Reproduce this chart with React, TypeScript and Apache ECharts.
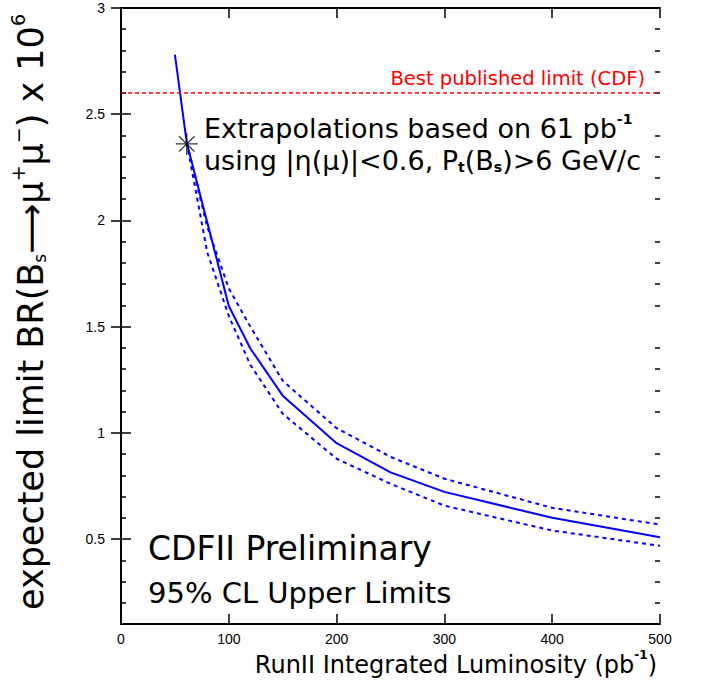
import React, { useEffect, useRef } from "react";
import * as echarts from "echarts";

// Expected limit (solid line)
const lumi = [50, 61, 100, 120, 150, 200, 250, 300, 400, 500];
const expected = [2.78, 2.366, 1.597, 1.397, 1.175, 0.951, 0.814, 0.722, 0.6, 0.508];
// +/- band (dashed lines)
const bandLumi = [61, 80, 100, 120, 150, 200, 250, 300, 400, 500];
const upper = [2.366, 1.97, 1.68, 1.5, 1.245, 1.022, 0.887, 0.784, 0.647, 0.568];
const lower = [2.366, 1.85, 1.55, 1.32, 1.09, 0.878, 0.76, 0.657, 0.54, 0.468];
// measured point
const measuredLumi = [61];
const measuredLimit = [2.36];
// best published limit
const bestLimit = 2.6;
// axis ticks
const yMajor = [0.5, 1, 1.5, 2, 2.5, 3];
const yMinor = [0.2, 0.3, 0.4, 0.6, 0.7, 0.8, 0.9, 1.1, 1.2, 1.3, 1.4, 1.6, 1.7, 1.8, 1.9, 2.1, 2.2, 2.3, 2.4, 2.6, 2.7, 2.8, 2.9];
const xTicks = { min: 0, max: 500, interval: 100 };

const FONT = "DejaVu Sans";
const LBL = "Liberation Sans";

export default function App() {
  const ref = useRef<HTMLDivElement>(null);
  useEffect(() => {
    if (!ref.current) return;
    const chart = echarts.init(ref.current, null, { renderer: "svg" });
    const axisLine = { show: true, lineStyle: { color: "#000", width: 2 } };
    const yBase = (pos: string, ticks: number[], len: number, labels: boolean, line: boolean) => ({
      type: "value",
      min: 0.1,
      max: 3,
      position: pos,
      axisLine: line ? axisLine : { show: false },
      axisTick: { show: true, inside: true, length: len, customValues: ticks, lineStyle: { color: "#000", width: 1.5 } },
      axisLabel: labels
        ? { show: true, customValues: yMajor, color: "#000", fontSize: 14, fontFamily: LBL, margin: 16, formatter: (v: number) => String(v) }
        : { show: false },
      splitLine: { show: false },
    });
    const xBase = (pos: string, labels: boolean) => ({
      type: "value",
      min: xTicks.min,
      max: xTicks.max,
      interval: xTicks.interval,
      position: pos,
      axisLine,
      axisTick: { show: true, inside: true, length: 10, lineStyle: { color: "#000", width: 1.5 } },
      axisLabel: labels ? { show: true, color: "#000", fontSize: 14, fontFamily: LBL, margin: 8 } : { show: false },
      splitLine: { show: false },
    });
    chart.setOption({
      animation: false,
      backgroundColor: "#fff",
      grid: { left: 121, top: 8, right: 41, bottom: 70, containLabel: false },
      xAxis: [xBase("bottom", true), xBase("top", false)],
      yAxis: [
        yBase("left", yMajor, 10, true, true),
        yBase("right", yMajor, 10, false, true),
        yBase("left", yMinor, 5, false, false),
        yBase("right", yMinor, 5, false, false),
      ],
      series: [
        {
          type: "line",
          data: bandLumi.map((x, i) => [x, upper[i]]),
          symbol: "none",
          lineStyle: { color: "#0000ff", width: 2, type: [4, 4] },
        },
        {
          type: "line",
          data: bandLumi.map((x, i) => [x, lower[i]]),
          symbol: "none",
          lineStyle: { color: "#0000ff", width: 2, type: [4, 4] },
        },
        {
          type: "line",
          data: lumi.map((x, i) => [x, expected[i]]),
          symbol: "none",
          lineStyle: { color: "#0000ff", width: 2 },
          markLine: {
            silent: true,
            symbol: "none",
            label: { show: false },
            lineStyle: { color: "#ff0000", width: 1.5, type: [4, 3] },
            data: [{ yAxis: bestLimit }],
          },
        },
        {
          type: "scatter",
          data: measuredLumi.map((x, i) => [x, measuredLimit[i]]),
          symbol: "path://M10,0L10,20M0,10L20,10M3,3L17,17M3,17L17,3",
          symbolSize: 22,
          itemStyle: { color: "none", borderColor: "#000", borderWidth: 1.3 },
          z: 5,
        },
      ],
      graphic: [
        {
          type: "text",
          x: 645,
          y: 78,
          style: { text: "Best published limit (CDF)", fill: "#ff0000", font: `19.5px "${FONT}"`, align: "right", verticalAlign: "middle" },
        },
        {
          type: "text",
          x: 204,
          y: 127,
          style: {
            text: "{a|Extrapolations based on 61 pb}{p|-1}",
            align: "left",
            verticalAlign: "middle",
            rich: {
              a: { fontSize: 27, fontFamily: FONT, fill: "#000", lineHeight: 30, verticalAlign: "bottom" },
              p: { fontSize: 14, fontFamily: FONT, fill: "#000", lineHeight: 30, verticalAlign: "top", fontWeight: "bold" },
            },
          },
        },
        {
          type: "text",
          x: 204,
          y: 159,
          style: {
            text: "{a|using |η(μ)|<0.6, P}{s|t}{a|(B}{s|s}{a|)>6 GeV/c}",
            align: "left",
            verticalAlign: "middle",
            rich: {
              a: { fontSize: 27, fontFamily: FONT, fill: "#000", lineHeight: 30, verticalAlign: "bottom" },
              s: { fontSize: 14, fontFamily: FONT, fill: "#000", lineHeight: 16, verticalAlign: "bottom", fontWeight: "bold" },
            },
          },
        },
        {
          type: "text",
          x: 148,
          y: 548,
          style: { text: "CDFII Preliminary", fill: "#000", font: `33px "${FONT}"`, align: "left", verticalAlign: "middle" },
        },
        {
          type: "text",
          x: 148,
          y: 593,
          style: { text: "95% CL Upper Limits", fill: "#000", font: `29px "${FONT}"`, align: "left", verticalAlign: "middle" },
        },
        {
          type: "text",
          x: 657,
          y: 663,
          style: {
            text: "{a|RunII Integrated Luminosity (pb}{p|-1}{a|)}",
            align: "right",
            verticalAlign: "middle",
            rich: {
              a: { fontSize: 24, fontFamily: FONT, fill: "#000", lineHeight: 28, verticalAlign: "bottom" },
              p: { fontSize: 12, fontFamily: FONT, fill: "#000", lineHeight: 28, verticalAlign: "top", fontWeight: "bold" },
            },
          },
        },
        {
          type: "text",
          x: 28,
          y: 312,
          rotation: Math.PI / 2,
          style: {
            text: "{a|expected limit BR(B}{s|s}{a|⟶μ}{p|+}{a|μ}{p|−}{a|) x 10}{p|6}",
            align: "center",
            verticalAlign: "middle",
            rich: {
              a: { fontSize: 35, fontFamily: FONT, fill: "#000", lineHeight: 40, verticalAlign: "bottom" },
              s: { fontSize: 17, fontFamily: FONT, fill: "#000", lineHeight: 20, verticalAlign: "bottom" },
              p: { fontSize: 19, fontFamily: FONT, fill: "#000", lineHeight: 40, verticalAlign: "top" },
            },
          },
        },
      ],
    });
    return () => chart.dispose();
  }, []);
  return <div ref={ref} style={{ position: "fixed", left: 0, top: 0, width: 701, height: 694 }} />;
}
